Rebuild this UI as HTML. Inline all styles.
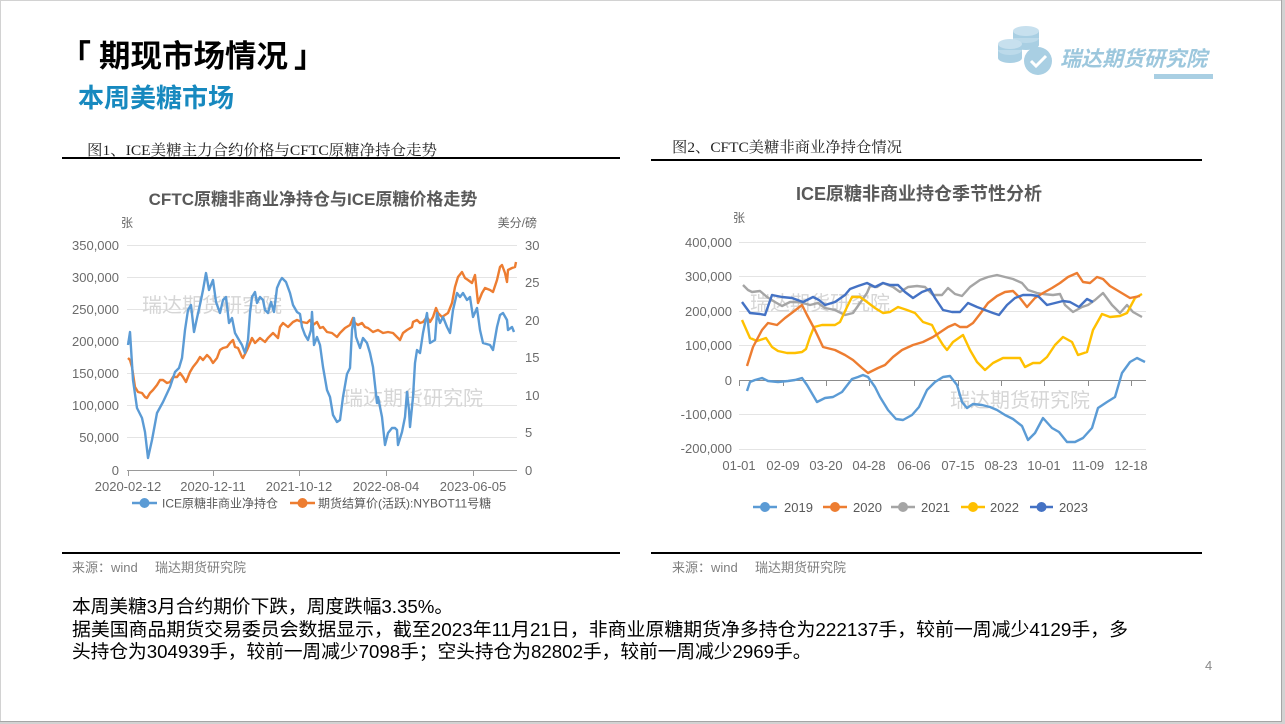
<!DOCTYPE html>
<html>
<head>
<meta charset="utf-8">
<style>
  html,body{margin:0;padding:0;background:#cfcfcf;}
  svg{display:block;}
  text{font-family:"Liberation Sans","Noto Sans CJK SC",sans-serif;}
  .serif{font-family:"Liberation Serif","Noto Serif CJK SC",serif;}
  .ax{font-size:13px;fill:#6b6b6b;}
  .lg{font-size:12px;fill:#595959;}
</style>
</head>
<body>
<svg width="1285" height="724" viewBox="0 0 1285 724" xmlns="http://www.w3.org/2000/svg">
  <!-- slide background & border -->
  <rect x="0" y="0" width="1285" height="724" fill="#d2d2d2"/>
  <rect x="1" y="1" width="1280" height="720" fill="#ffffff"/>
  <line x1="1281.5" y1="0" x2="1281.5" y2="722" stroke="#a6a6a6" stroke-width="1"/>
  <line x1="0" y1="721.5" x2="1282" y2="721.5" stroke="#a6a6a6" stroke-width="1"/>

  <!-- header -->
  <text x="60" y="67" font-size="31" font-weight="700" fill="#000">「</text>
  <text x="99" y="67" font-size="31" font-weight="700" fill="#000" textLength="189" lengthAdjust="spacingAndGlyphs">期现市场情况</text>
  <text x="294" y="67" font-size="31" font-weight="700" fill="#000">」</text>
  <text x="78" y="107" font-size="26" font-weight="700" fill="#1789bf">本周美糖市场</text>

  <!-- logo -->
  <g fill="#a9cfe3">
    <ellipse cx="1026" cy="45" rx="13" ry="5"/>
    <rect x="1013" y="38" width="26" height="7"/>
    <ellipse cx="1026" cy="38" rx="13" ry="5" fill="#bcdaea"/>
    <rect x="1013" y="31" width="26" height="7"/>
    <ellipse cx="1026" cy="31" rx="13" ry="5" fill="#c7e0ee"/>
    <ellipse cx="1010" cy="58" rx="12" ry="5"/>
    <rect x="998" y="50" width="24" height="8"/>
    <ellipse cx="1010" cy="50" rx="12" ry="5" fill="#bcdaea"/>
    <rect x="998" y="44" width="24" height="6"/>
    <ellipse cx="1010" cy="44" rx="12" ry="5" fill="#c7e0ee"/>
    <circle cx="1038" cy="61" r="14"/>
    <rect x="1154" y="74" width="59" height="5"/>
  </g>
  <polyline points="1031,61 1036,66 1046,56" fill="none" stroke="#ffffff" stroke-width="3"/>
  <text x="1060" y="66" font-size="21" font-weight="700" font-style="italic" fill="#9cc7dd">瑞达期货研究院</text>

  <!-- captions and rules -->
  <text class="serif" x="87" y="155" font-size="15" fill="#222" textLength="350" lengthAdjust="spacingAndGlyphs">图1、ICE美糖主力合约价格与CFTC原糖净持仓走势</text>
  <rect x="62" y="157" width="558" height="2" fill="#000"/>
  <text class="serif" x="672" y="152" font-size="15" fill="#222" textLength="230" lengthAdjust="spacingAndGlyphs">图2、CFTC美糖非商业净持仓情况</text>
  <rect x="651" y="159" width="551" height="2" fill="#000"/>

  <rect x="62" y="552" width="558" height="2" fill="#000"/>
  <rect x="651" y="552" width="551" height="2" fill="#000"/>
  <text x="72" y="572" font-size="13" fill="#7f7f7f">来源：wind</text>
  <text x="155" y="572" font-size="13" fill="#7f7f7f">瑞达期货研究院</text>
  <text x="672" y="572" font-size="13" fill="#7f7f7f">来源：wind</text>
  <text x="755" y="572" font-size="13" fill="#7f7f7f">瑞达期货研究院</text>

  <!-- body text -->
  <text x="72" y="613" font-size="18.7" fill="#000">本周美糖3月合约期价下跌，周度跌幅3.35%。</text>
  <text x="72" y="636" font-size="18.7" fill="#000" textLength="1056" lengthAdjust="spacingAndGlyphs">据美国商品期货交易委员会数据显示，截至2023年11月21日，非商业原糖期货净多持仓为222137手，较前一周减少4129手，多</text>
  <text x="72" y="658" font-size="18.7" fill="#000">头持仓为304939手，较前一周减少7098手；空头持仓为82802手，较前一周减少2969手。</text>
  <text x="1205" y="670" font-size="13" fill="#8a8a8a">4</text>

  <!-- ================= CHART 1 ================= -->
  <text x="313" y="205" font-size="17" font-weight="700" fill="#595959" text-anchor="middle">CFTC原糖非商业净持仓与ICE原糖价格走势</text>
  <text x="127" y="227" font-size="12" fill="#666" text-anchor="middle">张</text>
  <text x="537" y="227" font-size="12" fill="#666" text-anchor="end">美分/磅</text>

  <g stroke="#e4e4e4" stroke-width="1">
    <line x1="127" y1="245.5" x2="517" y2="245.5"/>
    <line x1="127" y1="277.5" x2="517" y2="277.5"/>
    <line x1="127" y1="309.5" x2="517" y2="309.5"/>
    <line x1="127" y1="341.5" x2="517" y2="341.5"/>
    <line x1="127" y1="373.5" x2="517" y2="373.5"/>
    <line x1="127" y1="405.5" x2="517" y2="405.5"/>
    <line x1="127" y1="437.5" x2="517" y2="437.5"/>
  </g>
  <line x1="127" y1="470.5" x2="517" y2="470.5" stroke="#9a9a9a" stroke-width="1"/>
  <g stroke="#9a9a9a" stroke-width="1">
    <line x1="128.5" y1="470" x2="128.5" y2="476"/>
    <line x1="213.5" y1="470" x2="213.5" y2="476"/>
    <line x1="299.5" y1="470" x2="299.5" y2="476"/>
    <line x1="386.5" y1="470" x2="386.5" y2="476"/>
    <line x1="473.5" y1="470" x2="473.5" y2="476"/>
  </g>
  <g class="ax" text-anchor="end">
    <text x="119" y="250">350,000</text>
    <text x="119" y="282">300,000</text>
    <text x="119" y="314">250,000</text>
    <text x="119" y="346">200,000</text>
    <text x="119" y="378">150,000</text>
    <text x="119" y="410">100,000</text>
    <text x="119" y="442">50,000</text>
    <text x="119" y="475">0</text>
  </g>
  <g class="ax">
    <text x="525" y="250">30</text>
    <text x="525" y="287">25</text>
    <text x="525" y="325">20</text>
    <text x="525" y="362">15</text>
    <text x="525" y="400">10</text>
    <text x="525" y="437">5</text>
    <text x="525" y="475">0</text>
  </g>
  <g class="ax" text-anchor="middle">
    <text x="128" y="491">2020-02-12</text>
    <text x="213" y="491">2020-12-11</text>
    <text x="299" y="491">2021-10-12</text>
    <text x="386" y="491">2022-08-04</text>
    <text x="473" y="491">2023-06-05</text>
  </g>

  <!-- watermarks chart 1 -->
  <text x="142" y="312" font-size="20" fill="#d6d6d6">瑞达期货研究院</text>
  <text x="343" y="405" font-size="20" fill="#d6d6d6">瑞达期货研究院</text>

  <!-- orange series -->
  <polyline fill="none" stroke="#ED7D31" stroke-width="2.4" stroke-linejoin="round" points="128,358 130,360 132,367 135,387 138,392 142,393 145,397 147,398 150,393 153,390 157,385 160,380 163,380 167,383 170,382 173,377 177,377 180,373 183,377 186,382 190,372 193,367 197,362 200,357 203,360 207,355 210,358 213,363 217,358 220,350 223,348 227,347 230,343 233,340 235,347 238,348 242,357 243,358 247,350 250,343 252,338 255,343 260,338 265,342 268,338 273,333 278,338 280,327 283,323 288,327 293,322 297,320 302,322 307,323 310,320 313,325 317,322 320,328 323,327 327,332 332,333 337,337 340,333 345,328 350,325 353,318 355,323 358,325 362,323 365,327 368,328 373,332 378,330 383,333 388,332 393,333 397,337 400,340 403,333 407,330 412,327 413,322 417,320 420,323 423,322 427,317 430,322 433,317 436,308 438,313 442,317 445,315 448,313 452,303 455,287 458,277 462,272 465,278 468,280 472,283 475,275 478,303 482,293 485,288 490,290 493,292 497,280 500,267 502,265 505,273 507,282 508,270 512,268 515,267 516,262"/>
  <!-- blue series -->
  <polyline fill="none" stroke="#5B9BD5" stroke-width="2.4" stroke-linejoin="round" points="128,345 130,332 133,380 137,408 142,418 145,432 148,458 152,440 157,413 163,402 170,387 175,372 179,368 182,358 185,330 188,310 191,305 194,332 197,318 201,300 203,290 206,273 209,290 213,280 216,302 220,313 223,300 226,297 229,323 232,318 235,333 239,340 242,345 245,353 248,340 250,313 252,297 255,292 257,303 260,297 263,300 265,310 268,313 271,302 274,312 277,288 280,281 282,278 286,282 290,293 293,305 297,312 300,314 302,327 305,335 308,340 311,330 312,312 314,345 317,337 320,345 323,367 327,390 330,397 333,415 337,422 340,420 343,397 347,374 350,368 352,330 354,318 356,337 360,348 363,338 367,343 370,353 373,367 377,403 378,397 382,417 385,445 388,433 392,428 395,428 397,430 398,445 402,432 405,417 407,392 409,410 410,427 413,397 415,363 417,350 420,353 423,333 427,313 430,343 435,340 437,313 440,323 443,317 447,327 450,333 453,310 457,293 460,297 463,293 467,300 470,297 473,317 477,308 480,330 483,343 490,345 493,350 497,327 500,315 503,313 507,320 508,330 512,327 514,332"/>

  <!-- legend chart 1 -->
  <line x1="132" y1="503" x2="157" y2="503" stroke="#5B9BD5" stroke-width="2.5"/>
  <circle cx="144.5" cy="503" r="5" fill="#5B9BD5"/>
  <text class="lg" x="162" y="507.5">ICE原糖非商业净持仓</text>
  <line x1="290" y1="503" x2="315" y2="503" stroke="#ED7D31" stroke-width="2.5"/>
  <circle cx="302.5" cy="503" r="5" fill="#ED7D31"/>
  <text class="lg" x="318" y="507.5">期货结算价(活跃):NYBOT11号糖</text>

  <!-- ================= CHART 2 ================= -->
  <text x="919" y="200" font-size="18" font-weight="700" fill="#595959" text-anchor="middle">ICE原糖非商业持仓季节性分析</text>
  <text x="739" y="222" font-size="12" fill="#666" text-anchor="middle">张</text>

  <g stroke="#e4e4e4" stroke-width="1">
    <line x1="739" y1="242.5" x2="1146" y2="242.5"/>
    <line x1="739" y1="276.5" x2="1146" y2="276.5"/>
    <line x1="739" y1="311.5" x2="1146" y2="311.5"/>
    <line x1="739" y1="345.5" x2="1146" y2="345.5"/>
    <line x1="739" y1="414.5" x2="1146" y2="414.5"/>
    <line x1="739" y1="449.5" x2="1146" y2="449.5"/>
  </g>
  <line x1="739" y1="380.5" x2="1146" y2="380.5" stroke="#8c8c8c" stroke-width="1"/>
  <g stroke="#8c8c8c" stroke-width="1">
    <line x1="739.5" y1="380" x2="739.5" y2="386"/>
    <line x1="783.5" y1="380" x2="783.5" y2="386"/>
    <line x1="826.5" y1="380" x2="826.5" y2="386"/>
    <line x1="869.5" y1="380" x2="869.5" y2="386"/>
    <line x1="914.5" y1="380" x2="914.5" y2="386"/>
    <line x1="958.5" y1="380" x2="958.5" y2="386"/>
    <line x1="1001.5" y1="380" x2="1001.5" y2="386"/>
    <line x1="1044.5" y1="380" x2="1044.5" y2="386"/>
    <line x1="1088.5" y1="380" x2="1088.5" y2="386"/>
    <line x1="1131.5" y1="380" x2="1131.5" y2="386"/>
  </g>
  <g class="ax" text-anchor="end">
    <text x="732" y="247">400,000</text>
    <text x="732" y="281">300,000</text>
    <text x="732" y="316">200,000</text>
    <text x="732" y="350">100,000</text>
    <text x="732" y="385">0</text>
    <text x="732" y="419">-100,000</text>
    <text x="732" y="453">-200,000</text>
  </g>
  <g class="ax" text-anchor="middle">
    <text x="739" y="470">01-01</text>
    <text x="783" y="470">02-09</text>
    <text x="826" y="470">03-20</text>
    <text x="869" y="470">04-28</text>
    <text x="914" y="470">06-06</text>
    <text x="958" y="470">07-15</text>
    <text x="1001" y="470">08-23</text>
    <text x="1044" y="470">10-01</text>
    <text x="1088" y="470">11-09</text>
    <text x="1131" y="470">12-18</text>
  </g>

  <!-- watermarks chart 2 -->
  <text x="750" y="310" font-size="20" fill="#d6d6d6">瑞达期货研究院</text>
  <text x="950" y="407" font-size="20" fill="#d6d6d6">瑞达期货研究院</text>

  <g fill="none" stroke-width="2.4" stroke-linejoin="round">
    <!-- 2021 gray -->
    <polyline stroke="#A5A5A5" points="743,285 748,290 752,292 760,291 767,297 775,302 782,306 790,302 797,302 803,303 810,305 818,303 825,308 835,310 845,315 853,313 860,303 867,293 870,286 877,287 883,283 893,287 900,292 908,287 917,286 925,287 933,295 942,295 948,288 955,294 962,296 970,287 980,280 988,277 997,275 1005,277 1013,279 1022,283 1028,290 1037,293 1043,294 1053,295 1060,294 1065,305 1073,312 1082,307 1088,305 1095,300 1103,293 1112,305 1120,313 1127,305 1133,312 1142,317"/>
    <!-- 2022 yellow -->
    <polyline stroke="#FFC000" points="742,320 750,338 757,341 766,338 772,347 778,351 787,353 795,353 802,352 806,349 810,337 814,327 822,325 835,325 840,322 847,307 852,297 860,297 867,302 875,308 883,313 890,312 898,307 907,310 915,313 923,322 932,325 938,337 943,345 947,350 953,342 963,335 970,350 977,362 985,370 993,363 1003,358 1012,358 1020,358 1025,367 1033,363 1040,363 1047,357 1055,345 1063,337 1072,342 1078,355 1087,352 1093,330 1102,314 1110,317 1120,316 1127,313 1135,298 1142,294"/>
    <!-- 2020 orange -->
    <polyline stroke="#ED7D31" points="747,366 753,347 762,330 768,323 777,325 785,318 793,312 802,305 807,315 815,330 823,347 835,350 845,355 853,360 862,368 868,373 878,368 885,365 893,357 902,350 913,345 923,342 933,337 942,331 948,327 955,324 960,327 967,327 973,323 980,314 988,303 997,296 1005,292 1013,291 1020,298 1027,307 1035,298 1043,293 1052,288 1060,283 1068,277 1077,273 1083,282 1090,283 1097,277 1103,279 1110,286 1120,292 1130,298 1140,296"/>
    <!-- 2023 dark blue -->
    <polyline stroke="#4472C4" points="742,302 750,313 760,314 765,315 772,295 782,297 792,298 803,302 813,297 819,300 825,305 835,302 845,295 850,289 858,286 867,283 875,287 883,283 890,285 898,285 905,292 913,298 922,292 930,289 935,298 943,310 952,312 960,312 968,303 977,307 985,310 993,313 999,315 1007,305 1015,298 1023,295 1031,295 1038,296 1047,305 1055,303 1063,301 1070,302 1079,307 1087,299 1093,302"/>
    <!-- 2019 light blue -->
    <polyline stroke="#5B9BD5" points="747,391 750,382 755,380 762,378 768,381 778,382 788,381 795,380 802,378 807,385 817,402 825,398 833,397 842,392 852,379 858,377 863,375 868,377 875,387 880,397 888,410 896,419 903,420 912,415 919,407 927,390 935,382 943,377 950,376 957,385 962,402 967,408 973,404 982,405 990,407 997,410 1005,415 1013,419 1022,426 1028,440 1035,433 1043,418 1052,428 1059,432 1067,442 1075,442 1083,438 1092,428 1098,408 1107,402 1115,397 1122,373 1130,362 1137,358 1145,362"/>
  </g>

  <!-- legend chart 2 -->
  <g font-size="13" fill="#595959">
    <line x1="753" y1="507" x2="777" y2="507" stroke="#5B9BD5" stroke-width="2.5"/>
    <circle cx="765" cy="507" r="5" fill="#5B9BD5"/>
    <text x="784" y="512">2019</text>
    <line x1="823" y1="507" x2="847" y2="507" stroke="#ED7D31" stroke-width="2.5"/>
    <circle cx="835" cy="507" r="5" fill="#ED7D31"/>
    <text x="853" y="512">2020</text>
    <line x1="891" y1="507" x2="915" y2="507" stroke="#A5A5A5" stroke-width="2.5"/>
    <circle cx="903" cy="507" r="5" fill="#A5A5A5"/>
    <text x="921" y="512">2021</text>
    <line x1="961" y1="507" x2="985" y2="507" stroke="#FFC000" stroke-width="2.5"/>
    <circle cx="973" cy="507" r="5" fill="#FFC000"/>
    <text x="990" y="512">2022</text>
    <line x1="1030" y1="507" x2="1053" y2="507" stroke="#4472C4" stroke-width="2.5"/>
    <circle cx="1041.5" cy="507" r="5" fill="#4472C4"/>
    <text x="1059" y="512">2023</text>
  </g>
</svg>
</body>
</html>
